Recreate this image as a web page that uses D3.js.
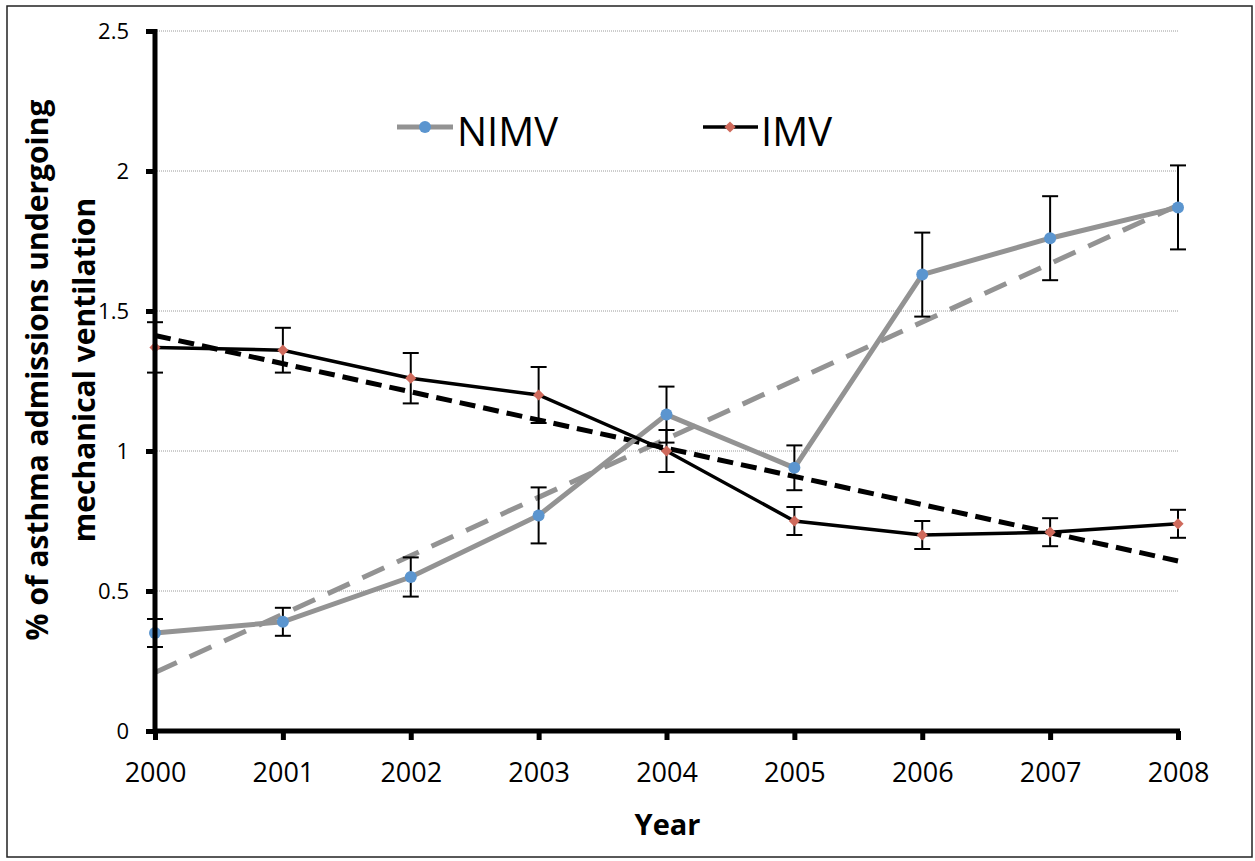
<!DOCTYPE html>
<html>
<head>
<meta charset="utf-8">
<script src="https://cdn.jsdelivr.net/npm/d3@7"></script>
<style>
  body { margin: 0; background: #fff; }
  text { font-family: "Open Sans", "Noto Sans", sans-serif; }
</style>
</head>
<body>
<div id="chart"></div>
<script>
var years = [2000, 2001, 2002, 2003, 2004, 2005, 2006, 2007, 2008];
var nimv = [0.35, 0.39, 0.55, 0.77, 1.13, 0.94, 1.63, 1.76, 1.87];
var nimvErr = [0.05, 0.05, 0.07, 0.10, 0.10, 0.08, 0.15, 0.15, 0.15];
var imv = [1.37, 1.36, 1.26, 1.20, 1.00, 0.75, 0.70, 0.71, 0.74];
var imvErr = [0.09, 0.08, 0.09, 0.10, 0.075, 0.05, 0.05, 0.05, 0.05];
var yTicks = [0, 0.5, 1, 1.5, 2, 2.5];

var svgWidth = 1255;
var svgHeight = 861;

var margin = { top: 31, right: 77, bottom: 130, left: 155 };
var width = svgWidth - margin.left - margin.right;
var height = svgHeight - margin.top - margin.bottom;

var svg = d3.select("#chart")
  .append("svg")
  .attr("width", svgWidth)
  .attr("height", svgHeight);

// outer frame
svg.append("rect")
  .attr("x", 7).attr("y", 6)
  .attr("width", 1245).attr("height", 851)
  .attr("fill", "none")
  .attr("stroke", "#222")
  .attr("stroke-width", 1.5);

var chartGroup = svg.append("g")
  .attr("transform", `translate(${margin.left}, ${margin.top})`);

var xScale = d3.scaleLinear()
  .domain([2000, 2008])
  .range([0, width]);

var yScale = d3.scaleLinear()
  .domain([0, 2.5])
  .range([height, 0]);

// gridlines
chartGroup.append("g")
  .selectAll("line")
  .data(yTicks.filter(d => d > 0))
  .enter()
  .append("line")
  .attr("x1", 0)
  .attr("x2", width)
  .attr("y1", d => yScale(d))
  .attr("y2", d => yScale(d))
  .attr("stroke", "#9a9a9a")
  .attr("stroke-width", 1)
  .attr("stroke-dasharray", "1,1");

// least squares trend, like excel does
function trend(vals) {
  var n = vals.length;
  var mx = d3.mean(years), my = d3.mean(vals);
  var sxy = d3.sum(years, (x, i) => (x - mx) * (vals[i] - my));
  var sxx = d3.sum(years, x => (x - mx) * (x - mx));
  var b = sxy / sxx;
  var a = my - b * mx;
  return [years[0], years[n - 1]].map(x => ({ x: x, y: a + b * x }));
}

var line = d3.line()
  .x(d => xScale(d.x))
  .y(d => yScale(d.y));

var nimvData = years.map((x, i) => ({ x: x, y: nimv[i], e: nimvErr[i] }));
var imvData = years.map((x, i) => ({ x: x, y: imv[i], e: imvErr[i] }));

// trend lines
chartGroup.append("path")
  .datum(trend(nimv))
  .attr("d", line)
  .attr("fill", "none")
  .attr("stroke", "#939393")
  .attr("stroke-width", 5)
  .attr("stroke-dasharray", "24,14");

chartGroup.append("path")
  .datum(trend(imv))
  .attr("d", line)
  .attr("fill", "none")
  .attr("stroke", "#000")
  .attr("stroke-width", 5)
  .attr("stroke-dasharray", "16,8");

// series lines
chartGroup.append("path")
  .datum(nimvData)
  .attr("d", line)
  .attr("fill", "none")
  .attr("stroke", "#939393")
  .attr("stroke-width", 5);

chartGroup.append("path")
  .datum(imvData)
  .attr("d", line)
  .attr("fill", "none")
  .attr("stroke", "#000")
  .attr("stroke-width", 3.5);

// error bars
function errorBars(data) {
  var g = chartGroup.append("g")
    .attr("stroke", "#000")
    .attr("stroke-width", 2);
  var bars = g.selectAll("g")
    .data(data)
    .enter()
    .append("g");
  bars.append("line")
    .attr("x1", d => xScale(d.x)).attr("x2", d => xScale(d.x))
    .attr("y1", d => yScale(d.y + d.e)).attr("y2", d => yScale(d.y - d.e));
  bars.append("line")
    .attr("x1", d => xScale(d.x) - 8).attr("x2", d => xScale(d.x) + 8)
    .attr("y1", d => yScale(d.y + d.e)).attr("y2", d => yScale(d.y + d.e));
  bars.append("line")
    .attr("x1", d => xScale(d.x) - 8).attr("x2", d => xScale(d.x) + 8)
    .attr("y1", d => yScale(d.y - d.e)).attr("y2", d => yScale(d.y - d.e));
}
errorBars(nimvData);
errorBars(imvData);

// markers
chartGroup.selectAll(".nimvDot")
  .data(nimvData)
  .enter()
  .append("circle")
  .attr("class", "nimvDot")
  .attr("cx", d => xScale(d.x))
  .attr("cy", d => yScale(d.y))
  .attr("r", 6)
  .attr("fill", "#5b95cf");

var diamond = d3.symbol().type(d3.symbolDiamond2).size(80);
chartGroup.selectAll(".imvDot")
  .data(imvData)
  .enter()
  .append("path")
  .attr("class", "imvDot")
  .attr("d", diamond)
  .attr("transform", d => `translate(${xScale(d.x)}, ${yScale(d.y)})`)
  .attr("fill", "#cf6a5c");

// axes
var leftAxis = d3.axisLeft(yScale)
  .tickValues(yTicks)
  .tickFormat(d => d)
  .tickSize(9)
  .tickPadding(17);

var yAxisG = chartGroup.append("g").call(leftAxis);
yAxisG.select(".domain").attr("stroke-width", 5).attr("d", `M0,${height + 2}V-2`);
yAxisG.selectAll(".tick line").attr("stroke-width", 5);
yAxisG.selectAll(".tick text")
  .attr("font-size", 22)
  .attr("font-family", "Open Sans")
  .attr("fill", "#000");

var bottomAxis = d3.axisBottom(xScale)
  .tickValues(years)
  .tickFormat(d3.format("d"))
  .tickSize(9)
  .tickPadding(23);

var xAxisG = chartGroup.append("g")
  .attr("transform", `translate(0, ${height})`)
  .call(bottomAxis);
xAxisG.select(".domain").attr("stroke-width", 5).attr("d", `M-2,0H${width + 2}`);
xAxisG.selectAll(".tick line").attr("stroke-width", 5);
xAxisG.selectAll(".tick text")
  .attr("font-size", 27)
  .attr("font-family", "Open Sans")
  .attr("fill", "#000");

// axis titles
chartGroup.append("text")
  .attr("x", width / 2 + 1)
  .attr("y", height + 104)
  .attr("text-anchor", "middle")
  .attr("font-size", 29)
  .attr("font-weight", "bold")
  .text("Year");

var yTitle = chartGroup.append("text")
  .attr("transform", `translate(${-155 + 48}, ${height / 2 - 11}) rotate(-90)`)
  .attr("text-anchor", "middle")
  .attr("font-size", 30)
  .attr("font-weight", "bold");
yTitle.append("tspan").attr("x", 0).attr("y", 0).text("% of asthma admissions undergoing");
yTitle.append("tspan").attr("x", 0).attr("y", 47).text("mechanical ventilation");

// legend
var legend = svg.append("g");
var nimvLeg = legend.append("g").attr("transform", "translate(397, 127)");
nimvLeg.append("line").attr("x1", 0).attr("x2", 56)
  .attr("stroke", "#939393").attr("stroke-width", 5);
nimvLeg.append("circle").attr("cx", 28).attr("r", 6).attr("fill", "#5b95cf");
nimvLeg.append("text").attr("x", 60).attr("y", 19)
  .attr("font-size", 40).text("NIMV");

var imvLeg = legend.append("g").attr("transform", "translate(703, 127)");
imvLeg.append("line").attr("x1", 0).attr("x2", 55)
  .attr("stroke", "#000").attr("stroke-width", 3.5);
imvLeg.append("path").attr("d", diamond).attr("transform", "translate(27, 0)").attr("fill", "#cf6a5c");
imvLeg.append("text").attr("x", 58).attr("y", 19)
  .attr("font-size", 40).text("IMV");
</script>
</body>
</html>
